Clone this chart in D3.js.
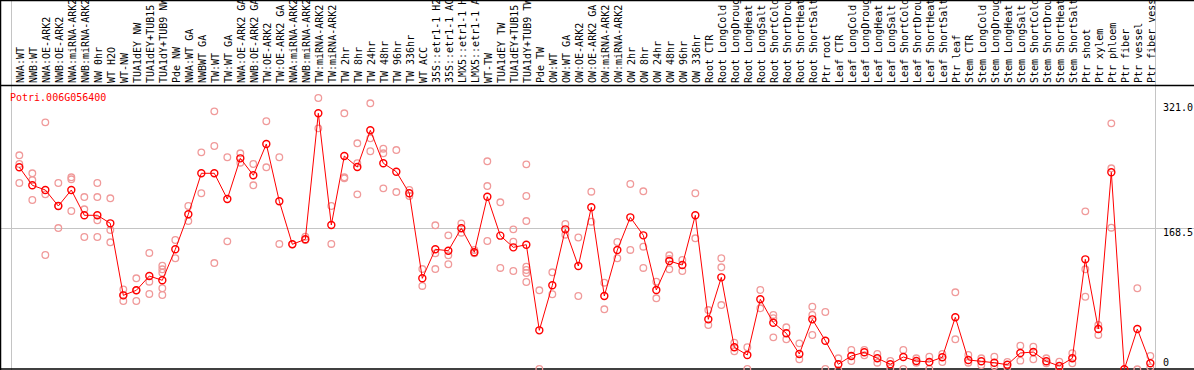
<!DOCTYPE html>
<html>
<head>
<meta charset="utf-8">
<script src="https://cdn.jsdelivr.net/npm/d3@7"></script>
<style>
  body { margin: 0; background: #fff; }
  text { font-family: "DejaVu Sans Mono", "Liberation Mono", monospace; font-size: 10px; }
</style>
</head>
<body>
<div id="chart"></div>
<script>
const geneId = "Potri.006G056400";

const categories = [
    "NWA:WT", "NWB:WT", "NWA:OE-ARK2", "NWB:OE-ARK2", "NWA:miRNA-ARK2", "NWB:miRNA-ARK2",
    "NW 0hr", "WT H2O", "WT-NW", "TUA1dEY NW", "TUA1dEY+TUB15 NW", "TUA1dY+TUB9 NW", "Pde NW",
    "NWA:WT GA", "NWBWT GA", "TW:WT", "TW:WT GA", "NWA:OE-ARK2 GA", "NWB:OE-ARK2 GA",
    "TW:OE-ARK2", "TW:OE-ARK2 GA", "NWA:miRNA-ARK2 GA", "NWB:miRNA-ARK2 GA", "TW:miRNA-ARK2",
    "TW:miRNA-ARK2 GA", "TW 2hr", "TW 8hr", "TW 24hr", "TW 48hr", "TW 96hr", "TW 336hr",
    "WT ACC", "35S::etr1-1 H2O", "35S::etr1-1 ACC", "LMX5::etr1-1 H2O", "LMX5::etr1-1 ACC",
    "WT-TW", "TUA1dEY TW", "TUA1dEY+TUB15 TW", "TUA1dY+TUB9 TW", "Pde TW",
    "OW:WT", "OW:WT GA", "OW:OE-ARK2", "OW:OE-ARK2 GA", "OW:miRNA-ARK2", "OW:miRNA-ARK2 GA",
    "OW 2hr", "OW 8hr", "OW 24hr", "OW 48hr", "OW 96hr", "OW 336hr",
    "Root CTR", "Root LongCold", "Root LongDrought", "Root LongHeat", "Root LongSalt",
    "Root ShortCold", "Root ShortDrought", "Root ShortHeat", "Root ShortSalt", "Ptr root",
    "Leaf CTR", "Leaf LongCold", "Leaf LongDrought", "Leaf LongHeat", "Leaf LongSalt",
    "Leaf ShortCold", "Leaf ShortDrought", "Leaf ShortHeat", "Leaf ShortSalt", "Ptr leaf",
    "Stem CTR", "Stem LongCold", "Stem LongDrought", "Stem LongHeat", "Stem LongSalt",
    "Stem ShortCold", "Stem ShortDrought", "Stem ShortHeat", "Stem ShortSalt", "Ptr shoot", "Ptr xylem",
    "Ptr phloem", "Ptr fiber", "Ptr vessel", "Ptr fiber vessels"
];

// number of samples in each block between the grey separators
const groupSizes = [13, 28, 12, 10, 10, 11, 1, 1, 1, 1];

const means = [
    242.4, 220.5, 214.8, 195.3, 214.8, 184.0, 184.0, 174.2, 86.6, 92.7, 110.1, 104.9, 142.6,
    185.2, 235.1, 235.1, 203.8, 253.3, 232.7, 270.7, 201.0, 148.7, 154.8, 308.1, 172.2, 256.1,
    242.8, 287.4, 247.3, 237.0, 210.8, 107.3, 142.6, 140.9, 168.2, 139.0, 206.6, 159.2, 145.0, 148.2, 44.0,
    98.8, 166.9, 122.3, 193.7, 85.8, 141.8, 181.5, 159.6, 93.1, 128.4, 123.5, 184.0,
    57.4, 108.5, 23.4, 14.0, 81.8, 53.3, 40.4, 15.2, 57.4, 31.4,
    2.7, 12.8, 17.3, 10.0, 2.7, 11.6, 6.7, 5.5, 11.2, 59.9,
    7.9, 6.3, 4.6, 2.2, 16.4, 17.6, 6.3, 0.6, 10.0, 130.4, 45.6,
    236.3, -3.4, 45.6, 3.9
];

const replicates = [
    [257.0, 246.4, 223.3], [235.1, 226.9, 202.6], [297.1, 209.5, 135.7], [223.3, 195.3, 168.5],
    [230.2, 227.8, 189.2], [206.2, 191.3, 157.6], [223.3, 206.2, 177.9, 157.6], [204.7, 166.1, 151.1],
    [93.9, 86.6, 79.7], [107.3, 92.7, 79.7], [138.1, 103.2, 88.2], [122.7, 118.3, 114.1, 95.2, 87.0],
    [153.9, 131.7],
    [195.3, 177.0], [260.6, 210.8], [310.5, 268.3, 125.9], [254.6, 152.3], [259.4, 248.0],
    [246.4, 220.5], [298.4, 242.4], [254.6, 149.1], [148.7], [157.9, 153.9], [326.7, 289.8],
    [195.3, 149.1], [308.1, 230.2, 229.0], [271.6, 247.3, 209.5], [320.3, 277.7, 261.9],
    [265.0, 259.4, 216.8], [263.4, 212.3], [214.8, 207.5], [118.6, 98.0], [171.8, 137.7, 118.6],
    [159.6, 135.3, 124.4], [174.2, 162.8], [141.8, 137.7], [249.7, 219.6, 152.7], [199.8, 119.9],
    [166.9, 151.9, 116.2], [246.0, 207.5, 177.0, 121.4, 117.4, 113.8, 102.8], [92.7, -3.0],
    [114.6, 87.9], [173.4, 160.4], [157.0, 85.8], [212.7, 176.2], [102.0, 69.6], [151.5, 131.7],
    [222.1, 141.8], [213.2, 145.8, 119.9], [103.2, 83.0], [135.3, 131.0, 118.3], [129.6, 116.2],
    [210.8, 156.0],
    [68.7, 50.5], [131.7, 120.7, 74.8], [29.0, 18.5], [23.4, -3.0], [93.1, 70.8], [62.7, 58.7, 35.5],
    [47.7, 33.1], [28.2, 8.8], [72.8, 62.7, 38.3], [66.3, -3.0],
    [10.0, -4.3], [20.1, 6.7], [20.1, 13.6], [15.2, 4.6], [6.7, -2.2], [20.1, -3.0], [10.0, 4.6],
    [11.9, -3.0], [15.2, 5.5], [90.3, 33.1],
    [14.0, 4.6], [10.0, 1.8], [11.9, 0.6], [5.5, -1.0], [25.3, 7.1], [24.1, 8.8], [10.0, 3.9],
    [5.8, -3.0], [16.1, 3.9], [188.8, 118.3, 84.9], [50.5, 38.3],
    [295.9, 241.2, 168.9], [], [95.2, -3.4], [12.8, -1.0]
];

const yTicks = [0, 168.5, 321.0];

function init() {
    let width = 1194, height = 370, headerBottom = 85;

    let svg = d3.select("#chart")
        .append("svg")
        .attr("width", width)
        .attr("height", height);

    let x = d3.scaleBand()
        .domain(d3.range(categories.length))
        .range([11, 1155]);
    // points sit a little right of the band centre
    let px = function (i) { return x(i) + x.bandwidth() * 0.64; };

    let y = d3.scaleLinear()
        .domain([0, 321])
        .range([366.5, 102.7]);

    // group separators
    let bounds = [0].concat(d3.cumsum(groupSizes));
    svg.selectAll("line.sep")
        .data(bounds)
        .join("line")
        .attr("class", "sep")
        .attr("x1", function (d) { return d < categories.length ? x(d) : x.range()[1]; })
        .attr("x2", function (d) { return d < categories.length ? x(d) : x.range()[1]; })
        .attr("y1", 0)
        .attr("y2", height)
        .attr("stroke", "#c4c4c4")
        .attr("stroke-width", 1)
        .attr("shape-rendering", "crispEdges");

    // middle gridline
    svg.append("line")
        .attr("x1", 0).attr("x2", width)
        .attr("y1", y(yTicks[1])).attr("y2", y(yTicks[1]))
        .attr("stroke", "#c4c4c4")
        .attr("shape-rendering", "crispEdges");

    // frame
    let frame = [
        [0, 0.5, width, 0.5],
        [0, headerBottom + 0.5, width, headerBottom + 0.5],
        [0.5, 0, 0.5, height],
        [0, height - 1, width, height - 1]
    ];
    svg.selectAll("line.frame")
        .data(frame)
        .join("line")
        .attr("class", "frame")
        .attr("x1", function (d) { return d[0]; })
        .attr("y1", function (d) { return d[1]; })
        .attr("x2", function (d) { return d[2]; })
        .attr("y2", function (d) { return d[3]; })
        .attr("stroke", "#000")
        .attr("stroke-width", 1.5);

    // rotated sample labels
    svg.selectAll("text.cat")
        .data(categories)
        .join("text")
        .attr("class", "cat")
        .attr("transform", function (d, i) {
            return "translate(" + (x(i) + 12.5) + "," + (headerBottom - 2) + ") rotate(-90)";
        })
        .attr("fill", "#000")
        .text(function (d) { return d; });

    // y labels on the right
    svg.selectAll("text.ytick")
        .data(yTicks)
        .join("text")
        .attr("class", "ytick")
        .attr("x", 1163)
        .attr("y", function (d) { return Math.min(y(d), height - 11.5); })
        .attr("dy", "0.78em")
        .attr("fill", "#000")
        .text(function (d) { return d === 0 ? "0" : d.toFixed(1); });

    // gene id
    svg.append("text")
        .attr("x", 10)
        .attr("y", 101)
        .attr("fill", "red")
        .text(geneId);

    // replicate circles
    let reps = [];
    replicates.forEach(function (r, i) {
        r.forEach(function (v) { reps.push({ i: i, v: v }); });
    });
    svg.selectAll("circle.rep")
        .data(reps)
        .join("circle")
        .attr("class", "rep")
        .attr("cx", function (d) { return px(d.i); })
        .attr("cy", function (d) { return y(d.v); })
        .attr("r", 3.3)
        .attr("fill", "none")
        .attr("stroke", "#f09a9a")
        .attr("stroke-width", 1.3);

    // mean line
    let line = d3.line()
        .x(function (d, i) { return px(i); })
        .y(function (d) { return y(d); });
    svg.append("path")
        .datum(means)
        .attr("d", line)
        .attr("fill", "none")
        .attr("stroke", "red")
        .attr("stroke-width", 1);

    // mean markers
    svg.selectAll("circle.mean")
        .data(means)
        .join("circle")
        .attr("class", "mean")
        .attr("cx", function (d, i) { return px(i); })
        .attr("cy", function (d) { return y(d); })
        .attr("r", 3.5)
        .attr("fill", "none")
        .attr("stroke", "red")
        .attr("stroke-width", 1.4);
}

window.addEventListener('load', init);
</script>
</body>
</html>
